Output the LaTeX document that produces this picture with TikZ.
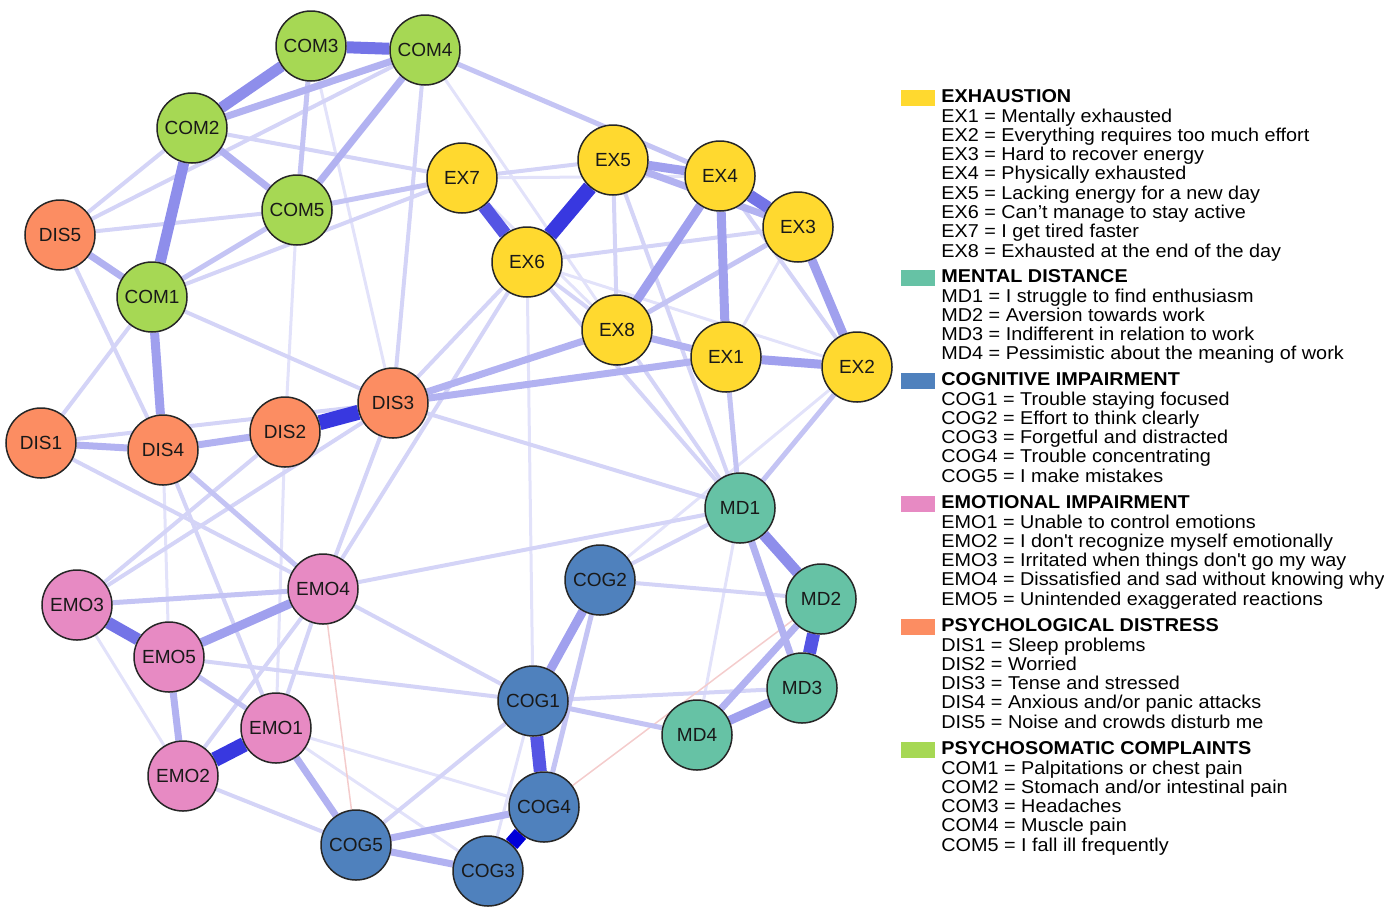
\documentclass[tikz,border=0pt]{standalone}
\usepackage{fontspec}
\setmainfont{Liberation Sans}
\newfontfamily\legfont{Liberation Sans}[FakeStretch=1.065]
\usetikzlibrary{backgrounds}
\definecolor{cEX}{HTML}{FFD92F}
\definecolor{cMD}{HTML}{66C2A5}
\definecolor{cCOG}{HTML}{4F81BD}
\definecolor{cEMO}{HTML}{E78AC3}
\definecolor{cDIS}{HTML}{FC8D62}
\definecolor{cCOM}{HTML}{A6D854}
\definecolor{eA}{HTML}{E2E2FA}
\definecolor{eB}{HTML}{D4D4F7}
\definecolor{eC}{HTML}{C4C4F4}
\definecolor{eD}{HTML}{B2B2F1}
\definecolor{eE}{HTML}{A0A0EE}
\definecolor{eF}{HTML}{8E8EEB}
\definecolor{eG}{HTML}{7474E7}
\definecolor{eH}{HTML}{5555E4}
\definecolor{eI}{HTML}{3838E0}
\definecolor{eJ}{HTML}{0000D8}
\definecolor{eNeg}{HTML}{F4CCCC}
\tikzset{
  nd/.style={circle, draw=black!85, line width=0.75pt, minimum size=35pt, inner sep=0pt,
    font=\fontsize{9.5}{10}\selectfont, text=black!90},
  ex/.style={nd, fill=cEX}, md/.style={nd, fill=cMD}, cog/.style={nd, fill=cCOG},
  emo/.style={nd, fill=cEMO}, dis/.style={nd, fill=cDIS}, com/.style={nd, fill=cCOM},
  wA/.style={draw=eA, line width=1.5pt},
  wB/.style={draw=eB, line width=2pt},
  wC/.style={draw=eC, line width=2.5pt},
  wD/.style={draw=eD, line width=3.5pt},
  wE/.style={draw=eE, line width=4.5pt},
  wF/.style={draw=eF, line width=5.5pt},
  wG/.style={draw=eG, line width=6pt},
  wH/.style={draw=eH, line width=6.5pt},
  wI/.style={draw=eI, line width=7.5pt},
  wJ/.style={draw=eJ, line width=7.5pt},
  wNeg/.style={draw=eNeg, line width=0.75pt},
  leg/.style={anchor=base west, inner sep=0pt, font=\legfont\fontsize{9.3}{10}\selectfont},
  legh/.style={leg, font=\legfont\bfseries\fontsize{9.3}{10}\selectfont},
  sw/.style={rectangle, draw=none, minimum width=17pt, minimum height=8pt, inner sep=0pt}
}
\begin{document}
\begin{tikzpicture}[x=0.5pt,y=-0.5pt]
\useasboundingbox (0,0) rectangle (1384,922);
% nodes
\node[com] (COM3) at (311,46) {COM3};
\node[com] (COM4) at (425,50) {COM4};
\node[com] (COM2) at (192,128) {COM2};
\node[com] (COM5) at (297,210) {COM5};
\node[com] (COM1) at (152,297) {COM1};
\node[dis] (DIS5) at (60,235) {DIS5};
\node[dis] (DIS1) at (41,443) {DIS1};
\node[dis] (DIS4) at (163,450) {DIS4};
\node[dis] (DIS2) at (285,432) {DIS2};
\node[dis] (DIS3) at (393,403) {DIS3};
\node[ex] (EX7) at (462,178) {EX7};
\node[ex] (EX5) at (613,160) {EX5};
\node[ex] (EX4) at (720,176) {EX4};
\node[ex] (EX3) at (798,227) {EX3};
\node[ex] (EX6) at (527,262) {EX6};
\node[ex] (EX8) at (617,330) {EX8};
\node[ex] (EX1) at (726,357) {EX1};
\node[ex] (EX2) at (857,367) {EX2};
\node[md] (MD1) at (740,508) {MD1};
\node[md] (MD2) at (821,599) {MD2};
\node[md] (MD3) at (802,688) {MD3};
\node[md] (MD4) at (697,735) {MD4};
\node[cog] (COG2) at (600,580) {COG2};
\node[cog] (COG1) at (533,701) {COG1};
\node[cog] (COG4) at (544,807) {COG4};
\node[cog] (COG3) at (488,871) {COG3};
\node[cog] (COG5) at (356,845) {COG5};
\node[emo] (EMO4) at (323,589) {EMO4};
\node[emo] (EMO3) at (77,605) {EMO3};
\node[emo] (EMO5) at (169,657) {EMO5};
\node[emo] (EMO1) at (276,728) {EMO1};
\node[emo] (EMO2) at (183,776) {EMO2};
% edges
\begin{scope}[on background layer]
\foreach \a/\b in {COM3/DIS3, COM5/DIS2, COM4/EX8, EX7/EX4, EX3/EX1, EX6/EX2, EX7/EX8, EX6/COG1,
  DIS4/EMO5, DIS2/EMO1, MD1/MD4, COG2/EX2, COG1/COG3, EMO3/EMO2, EMO1/COG4, EMO1/COG3}
  \draw[wA] (\a) -- (\b);
\foreach \a/\b in {DIS5/COM2, DIS5/COM4, DIS5/COM5, DIS5/DIS4, COM2/EX7, COM1/EX7, COM1/DIS1,
  COM1/DIS3, COM4/DIS3, DIS1/DIS3, DIS1/EMO4, DIS4/EMO1, DIS2/EMO3, DIS3/EMO3, DIS3/EMO4,
  DIS3/EX6, DIS3/MD1, EX6/EX3, EX7/EX5, EX5/EX8, EX6/EX8, EX4/EX2, EX6/EMO4, MD1/EX8, MD1/EX5,
  MD1/EX6, MD1/EMO4, MD1/COG2, COG2/MD2, COG1/MD3, COG5/COG1, EMO2/COG5, EMO4/EMO2, EMO4/EMO1,
  EMO4/COG1, EMO5/COG1}
  \draw[wB] (\a) -- (\b);
\foreach \a/\b in {EMO4/COG5, COG4/MD2}
  \draw[wNeg] (\a) -- (\b);
\foreach \a/\b in {COM3/COM5, COM1/COM5, COM5/EX7, COM4/EX4, DIS4/EMO4, EX8/EX3, MD1/EX1,
  MD1/EX2, COG1/MD4, COG2/COG4, EMO3/EMO4, EMO5/EMO1}
  \draw[wC] (\a) -- (\b);
\foreach \a/\b in {DIS5/COM1, COM2/COM5, COM2/COM4, COM4/COM5, DIS1/DIS4, DIS4/DIS2, DIS3/EX8,
  DIS3/EX1, EX5/EX3, EX8/EX1, MD2/MD4, MD1/MD3, COG5/COG3, COG5/COG4, EMO5/EMO2, EMO1/COG5}
  \draw[wD] (\a) -- (\b);
\foreach \a/\b in {COM1/DIS4, EX5/EX4, EX4/EX8, EX4/EX1, EX3/EX2, EX1/EX2, COG1/COG2, MD3/MD4,
  EMO5/EMO4}
  \draw[wE] (\a) -- (\b);
\foreach \a/\b in {COM2/COM3, COM2/COM1, MD1/MD2}
  \draw[wF] (\a) -- (\b);
\foreach \a/\b in {COM3/COM4, EX4/EX3, EMO3/EMO5}
  \draw[wG] (\a) -- (\b);
\foreach \a/\b in {EX7/EX6, COG1/COG4, MD2/MD3}
  \draw[wH] (\a) -- (\b);
\foreach \a/\b in {EX5/EX6, DIS2/DIS3, EMO2/EMO1}
  \draw[wI] (\a) -- (\b);
\draw[wJ] (COG3) -- (COG4);
\end{scope}
% legend
\node[sw, fill=cEX] (sEX) at (918,97.5) {};
\node[legh] (hEX) at (941,102.7) {EXHAUSTION};
\node[leg] (lEX1) at (941,122.0) {EX1 = Mentally exhausted};
\node[leg] (lEX2) at (941,141.3) {EX2 = Everything requires too much effort};
\node[leg] (lEX3) at (941,160.6) {EX3 = Hard to recover energy};
\node[leg] (lEX4) at (941,179.9) {EX4 = Physically exhausted};
\node[leg] (lEX5) at (941,199.2) {EX5 = Lacking energy for a new day};
\node[leg] (lEX6) at (941,218.5) {EX6 = Can’t manage to stay active};
\node[leg] (lEX7) at (941,237.8) {EX7 = I get tired faster};
\node[leg] (lEX8) at (941,257.1) {EX8 = Exhausted at the end of the day};
\node[sw, fill=cMD] (sMD) at (918,277.5) {};
\node[legh] (hMD) at (941,282.7) {MENTAL DISTANCE};
\node[leg] (lMD1) at (941,302.0) {MD1 = I struggle to find enthusiasm};
\node[leg] (lMD2) at (941,321.3) {MD2 = Aversion towards work};
\node[leg] (lMD3) at (941,340.6) {MD3 = Indifferent in relation to work};
\node[leg] (lMD4) at (941,359.9) {MD4 = Pessimistic about the meaning of work};
\node[sw, fill=cCOG] (sCOG) at (918,380.5) {};
\node[legh] (hCOG) at (941,385.7) {COGNITIVE IMPAIRMENT};
\node[leg] (lCOG1) at (941,405.0) {COG1 = Trouble staying focused};
\node[leg] (lCOG2) at (941,424.3) {COG2 = Effort to think clearly};
\node[leg] (lCOG3) at (941,443.6) {COG3 = Forgetful and distracted};
\node[leg] (lCOG4) at (941,462.9) {COG4 = Trouble concentrating};
\node[leg] (lCOG5) at (941,482.2) {COG5 = I make mistakes};
\node[sw, fill=cEMO] (sEMO) at (918,503.5) {};
\node[legh] (hEMO) at (941,508.7) {EMOTIONAL IMPAIRMENT};
\node[leg] (lEMO1) at (941,528.0) {EMO1 = Unable to control emotions};
\node[leg] (lEMO2) at (941,547.3) {EMO2 = I don\textquotesingle t recognize myself emotionally};
\node[leg] (lEMO3) at (941,566.6) {EMO3 = Irritated when things don\textquotesingle t go my way};
\node[leg] (lEMO4) at (941,585.9) {EMO4 = Dissatisfied and sad without knowing why};
\node[leg] (lEMO5) at (941,605.2) {EMO5 = Unintended exaggerated reactions};
\node[sw, fill=cDIS] (sDIS) at (918,626.5) {};
\node[legh] (hDIS) at (941,631.7) {PSYCHOLOGICAL DISTRESS};
\node[leg] (lDIS1) at (941,651.0) {DIS1 = Sleep problems};
\node[leg] (lDIS2) at (941,670.3) {DIS2 = Worried};
\node[leg] (lDIS3) at (941,689.6) {DIS3 = Tense and stressed};
\node[leg] (lDIS4) at (941,708.9) {DIS4 = Anxious and/or panic attacks};
\node[leg] (lDIS5) at (941,728.2) {DIS5 = Noise and crowds disturb me};
\node[sw, fill=cCOM] (sCOM) at (918,749.5) {};
\node[legh] (hCOM) at (941,754.7) {PSYCHOSOMATIC COMPLAINTS};
\node[leg] (lCOM1) at (941,774.0) {COM1 = Palpitations or chest pain};
\node[leg] (lCOM2) at (941,793.3) {COM2 = Stomach and/or intestinal pain};
\node[leg] (lCOM3) at (941,812.6) {COM3 = Headaches};
\node[leg] (lCOM4) at (941,831.9) {COM4 = Muscle pain};
\node[leg] (lCOM5) at (941,851.2) {COM5 = I fall ill frequently};
\end{tikzpicture}
\end{document}
